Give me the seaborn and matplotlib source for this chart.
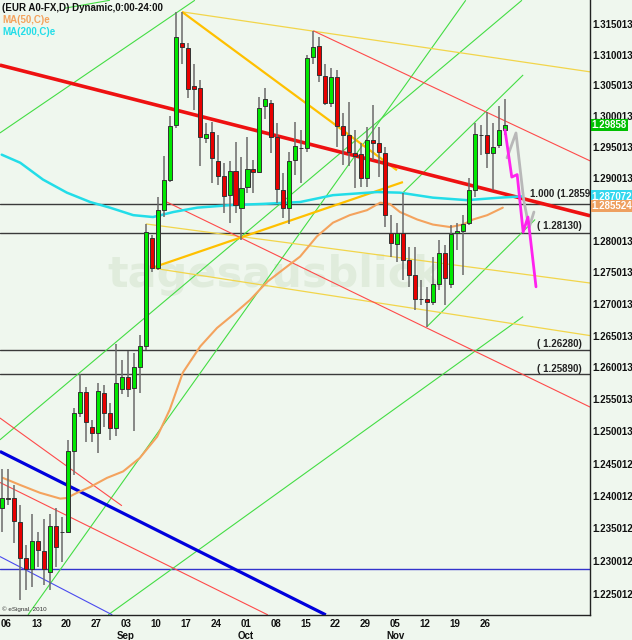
import matplotlib
matplotlib.use('Agg')
import matplotlib.pyplot as plt
import numpy as np
import pandas as pd
import seaborn as sns
from matplotlib.ticker import FixedLocator, NullLocator, NullFormatter

# Daily EUR/USD candles, Aug - Nov
opens = [1.2382, 1.2397, 1.2397, 1.2360, 1.2304, 1.2288, 1.2331, 1.2316, 1.2284, 1.2354,
         1.2344, 1.2345, 1.2469, 1.2529, 1.2562, 1.2507, 1.2498, 1.2560, 1.2529, 1.2506,
         1.2567, 1.2585, 1.2568, 1.2601, 1.2633, 1.2805, 1.2757, 1.2849, 1.2898, 1.2986,
         1.3119, 1.3111, 1.3049, 1.3046, 1.2965, 1.2975, 1.2928, 1.2904, 1.2873, 1.2912,
         1.2853, 1.2886, 1.2915, 1.2910, 1.3017, 1.3022, 1.2967, 1.2881, 1.2853, 1.2930,
         1.2949, 1.2949, 1.3097, 1.3114, 1.3066, 1.3022, 1.3064, 1.2985, 1.2970, 1.2941,
         1.2939, 1.2901, 1.2962, 1.2957, 1.2941, 1.2813, 1.2795, 1.2813, 1.2770, 1.2745,
         1.2708, 1.2708, 1.2703, 1.2732, 1.2780, 1.2732, 1.2813, 1.2816, 1.2829, 1.2881,
         1.2970, 1.2970, 1.2941, 1.2954, 1.2977]
highs = [1.2442, 1.2441, 1.2417, 1.2386, 1.2325, 1.2373, 1.2345, 1.2365, 1.2373, 1.2382,
         1.2367, 1.2487, 1.2537, 1.2589, 1.2570, 1.2518, 1.2576, 1.2573, 1.2545, 1.2637,
         1.2611, 1.2626, 1.2623, 1.2651, 1.2827, 1.2810, 1.2870, 1.2936, 1.3001, 1.3170,
         1.3170, 1.3119, 1.3085, 1.3059, 1.2989, 1.2991, 1.2970, 1.2925, 1.2928, 1.2959,
         1.2935, 1.2967, 1.2930, 1.3031, 1.3046, 1.3026, 1.2989, 1.2909, 1.2943, 1.2991,
         1.2978, 1.3100, 1.3139, 1.3129, 1.3084, 1.3079, 1.3075, 1.3005, 1.3023, 1.2978,
         1.2957, 1.2983, 1.3018, 1.2983, 1.2951, 1.2841, 1.2829, 1.2877, 1.2791, 1.2791,
         1.2738, 1.2727, 1.2775, 1.2802, 1.2794, 1.2826, 1.2829, 1.2841, 1.2901, 1.2989,
         1.2986, 1.3007, 1.2989, 1.3017, 1.3028]
lows = [1.2345, 1.2386, 1.2328, 1.2241, 1.2256, 1.2261, 1.2291, 1.2264, 1.2256, 1.2291,
        1.2298, 1.2344, 1.2433, 1.2523, 1.2483, 1.2483, 1.2467, 1.2507, 1.2487, 1.2493,
        1.2559, 1.2554, 1.2501, 1.2560, 1.2628, 1.2751, 1.2754, 1.2838, 1.2894, 1.2981,
        1.3084, 1.3030, 1.3010, 1.2919, 1.2956, 1.2893, 1.2890, 1.2845, 1.2829, 1.2845,
        1.2802, 1.2877, 1.2877, 1.2909, 1.2996, 1.2941, 1.2861, 1.2837, 1.2827, 1.2906,
        1.2893, 1.2943, 1.3084, 1.3056, 1.3018, 1.3015, 1.2951, 1.2922, 1.2919, 1.2885,
        1.2886, 1.2886, 1.2930, 1.2902, 1.2822, 1.2775, 1.2767, 1.2738, 1.2727, 1.2691,
        1.2698, 1.2664, 1.2698, 1.2722, 1.2698, 1.2725, 1.2786, 1.2746, 1.2826, 1.2870,
        1.2938, 1.2917, 1.2881, 1.2949, 1.2970]
closes = [1.2397, 1.2396, 1.2362, 1.2304, 1.2288, 1.2331, 1.2317, 1.2288, 1.2354, 1.2321,
          1.2344, 1.2469, 1.2529, 1.2562, 1.2514, 1.2498, 1.2563, 1.2529, 1.2506, 1.2576,
          1.2585, 1.2567, 1.2601, 1.2633, 1.2814, 1.2757, 1.2849, 1.2898, 1.2985, 1.3129,
          1.3113, 1.3044, 1.3044, 1.2967, 1.2972, 1.2933, 1.2904, 1.2872, 1.2912, 1.2857,
          1.2885, 1.2915, 1.2910, 1.3014, 1.3028, 1.2967, 1.2883, 1.2853, 1.2928, 1.2952,
          1.2949, 1.3095, 1.3113, 1.3067, 1.3022, 1.3064, 1.2985, 1.2970, 1.2943, 1.2936,
          1.2901, 1.2962, 1.2957, 1.2943, 1.2841, 1.2797, 1.2813, 1.2770, 1.2746, 1.2708,
          1.2708, 1.2703, 1.2732, 1.2780, 1.2741, 1.2811, 1.2816, 1.2827, 1.2881, 1.2972,
          1.2970, 1.2941, 1.2951, 1.2977, 1.29858]

# moving averages (bar index, value)
ma50_x = [0.1, 3.0, 6.3, 9.7, 10.8, 12.5, 14.7, 17.5, 20.2, 23.0, 25.9, 28.0, 30.2, 33.1,
          35.9, 38.6, 41.4, 44.3, 46.9, 49.8, 52.6, 55.3, 58.1, 61.0, 63.2, 64.8, 66.5,
          69.4, 72.0, 74.9, 77.0, 78.7, 81.1, 83.7]
ma50_y = [1.2428, 1.2417, 1.2405, 1.2396, 1.2397, 1.2405, 1.2414, 1.2428, 1.2438, 1.2459,
          1.2492, 1.2534, 1.2592, 1.2633, 1.2662, 1.2683, 1.2706, 1.2735, 1.2754, 1.2775,
          1.2807, 1.2829, 1.2841, 1.2849, 1.2861, 1.2859, 1.2846, 1.2834, 1.2826, 1.2822,
          1.2826, 1.2834, 1.2841, 1.2853]
ma200_x = [-0.1, 3.0, 6.8, 10.8, 14.7, 18.0, 21.9, 25.2, 28.6, 32.6, 38.1, 43.6, 49.8,
           55.3, 62.7, 66.5, 72.0, 77.7, 83.2, 86.9]
ma200_y = [1.2938, 1.2925, 1.2898, 1.2877, 1.2862, 1.2853, 1.2841, 1.2838, 1.2846, 1.2853,
           1.2857, 1.2859, 1.2862, 1.2873, 1.2878, 1.2877, 1.2869, 1.2865, 1.2869, 1.2871]

# drawn trend lines: (x0, p0, x1, p1)
red_thick = [(-0.4, 1.3083, 98.3, 1.2840)]
red_thin = [(-0.4, 1.2521, 20.0, 1.2385), (-0.4, 1.2421, 44.4, 1.2218),
            (27.5, 1.2862, 98.3, 1.2538), (52.0, 1.3139, 98.3, 1.2928)]
blue_thick = [(-0.4, 1.2469, 54.1, 1.2218)]
blue_thin = [(-0.4, 1.2307, 18.4, 1.2218)]
green_thin = [(-0.4, 1.2973, 32.2, 1.3189), (10.5, 1.3176, 18.0, 1.3189),
              (-0.4, 1.2487, 86.9, 1.3189), (4.3, 1.2218, 77.5, 1.3189),
              (17.7, 1.2218, 87.1, 1.2680), (71.0, 1.2664, 89.1, 1.2834),
              (67.0, 1.2877, 87.1, 1.3067)]
gold_thick = [(30.05, 1.3170, 66.0, 1.2913), (25.0, 1.2757, 67.0, 1.2894)]
yellow_thin = [(30.05, 1.3170, 98.3, 1.3072), (24.0, 1.2827, 98.3, 1.2733),
               (25.0, 1.2757, 98.3, 1.2650)]
proj_magenta_x = [84.06, 85.2, 86.1, 87.1, 87.9, 89.25]
proj_magenta_y = [1.2978, 1.2902, 1.2906, 1.2814, 1.2838, 1.2727]
proj_grey_x = [84.4, 85.9, 87.2, 88.1, 88.9]
proj_grey_y = [1.2933, 1.2973, 1.2865, 1.2821, 1.2846]

levels = [1.2859, 1.2813, 1.2628, 1.2589]
level_texts = ['1.000 (1.2859', '( 1.28130)', '( 1.26280)', '( 1.25890)']
blue_level = 1.2288

ytick_vals = [1.315013, 1.310013, 1.305013, 1.300013, 1.295013, 1.290013, 1.280013,
              1.275013, 1.270013, 1.265013, 1.260013, 1.255013, 1.250013, 1.245012,
              1.240012, 1.235012, 1.230012, 1.225012]
xtick_days = ['06', '13', '20', '27', '03', '10', '17', '24', '01', '08', '15', '22',
              '29', '05', '12', '19', '26']
xtick_months = {4: 'Sep', 8: 'Oct', 13: 'Nov'}

bg = '#eff7ee'
sns.set_style('white')
plt.rcParams['font.family'] = ['Liberation Sans', 'DejaVu Sans']
plt.rcParams['font.weight'] = 'bold'

fig = plt.figure(figsize=(6.32, 6.40), dpi=100, facecolor=bg)
ax = fig.add_axes([0, 25 / 640, 590 / 632, 615 / 640])
ax.set_facecolor(bg)
ax.set_yscale('log')
ax.set_xlim(-0.385, 98.28)
ax.set_ylim(1.22178, 1.31894)

# watermark
ax.text(45.6, 1.2746, 'tagesausblick', fontsize=31, color='#e0ecdc', ha='center',
        va='center', family='DejaVu Sans', weight='bold', zorder=0.5)

# horizontal levels
for lv in levels:
    ax.axhline(lv, color='#3a3a3a', lw=1.0, zorder=1)
ax.axhline(blue_level, color='#3333cc', lw=1.0, zorder=1)


def draw_lines(segs, color, lw):
    for x0, p0, x1, p1 in segs:
        ax.plot([x0, x1], [p0, p1], color=color, lw=lw, zorder=1.5, solid_capstyle='butt')


draw_lines(green_thin, '#44dd44', 0.8)
draw_lines(yellow_thin, '#f2d54a', 0.9)
draw_lines(red_thin, '#ff4a4a', 0.8)
draw_lines(blue_thin, '#4a4aee', 0.8)
draw_lines(gold_thick, '#ffc000', 1.6)
draw_lines(blue_thick, '#0000dd', 2.3)
draw_lines(red_thick, '#ee1111', 2.6)

# moving averages
sns.lineplot(x=ma200_x, y=ma200_y, ax=ax, color='#22dde8', lw=1.8, estimator=None, zorder=2)
sns.lineplot(x=ma50_x, y=ma50_y, ax=ax, color='#f4a35e', lw=1.5, estimator=None, zorder=2)

# candles
df = pd.DataFrame({'o': opens, 'h': highs, 'l': lows, 'c': closes})
idx = np.arange(len(df))
ax.vlines(idx, df.l, df.h, color='#6a6a6a', lw=1.1, zorder=3)
up = df.c >= df.o
body_col = np.where(up, '#00e800', '#e80000')
heights = (df.c - df.o).values
ax.bar(idx, heights, bottom=df.o.values, width=0.68, color=body_col,
       edgecolor='#333333', linewidth=0.7, zorder=4)

# projections
ax.plot(proj_grey_x, proj_grey_y, color='#b8b8b8', lw=2.0, zorder=5)
ax.plot(proj_magenta_x, proj_magenta_y, color='#ff22ee', lw=2.0, zorder=5)

# level labels
label_y = [1.2875, 1.2824, 1.2637, 1.2598]
label_x = [88.3, 89.4, 89.4, 89.4]
for tx, ty, t in zip(label_x, label_y, level_texts):
    ax.text(tx, ty, t, fontsize=7, ha='left', va='center', color='#222222', clip_on=True, zorder=6)

ax.text(0.0, 1.2226, '\u00a9 eSignal, 2010', fontsize=4.5, color='#333333', ha='left',
        va='center', weight='normal', zorder=6)

# axes styling
ax.yaxis.tick_right()
ax.yaxis.set_major_locator(FixedLocator(ytick_vals))
ax.yaxis.set_minor_locator(NullLocator())
ax.yaxis.set_minor_formatter(NullFormatter())
ax.set_yticklabels([f'{v:.6f}' for v in ytick_vals])
xt = [0.7 + 5 * k for k in range(len(xtick_days))]
ax.set_xticks(xt)
ax.set_xticklabels([d + ('\n' + xtick_months[k] if k in xtick_months else '')
                    for k, d in enumerate(xtick_days)])
ax.tick_params(axis='both', length=0, labelsize=7, colors='#111111')
ax.tick_params(axis='y', pad=1.5)
ax.tick_params(axis='x', pad=3)
for s in ['left', 'top']:
    ax.spines[s].set_visible(False)
for s in ['right', 'bottom']:
    ax.spines[s].set_color('#222222')
    ax.spines[s].set_linewidth(1.0)

# right side value boxes
for val, txt, fc in [(1.29858, '1.29858', '#00c000'), (1.287072, '1.287072', '#33d7ee'),
                     (1.285524, '1.285524', '#eea060')]:
    ax.text(1.003, val, txt, transform=ax.get_yaxis_transform(), fontsize=7, color='white',
            ha='left', va='center', clip_on=False, zorder=7,
            bbox=dict(boxstyle='square,pad=0.12', fc=fc, ec='none'))

# header
fig.text(2 / 632, 1 - 8 / 640, '(EUR A0-FX,D) Dynamic,0:00-24:00', fontsize=7, color='#111111',
         ha='left', va='center')
fig.text(2 / 632, 1 - 20 / 640, 'MA(50,C)e', fontsize=7, color='#f4a35e', ha='left', va='center')
fig.text(2 / 632, 1 - 32 / 640, 'MA(200,C)e', fontsize=7, color='#22dde8', ha='left', va='center')

fig.savefig('out.png', dpi=100, facecolor=bg)
